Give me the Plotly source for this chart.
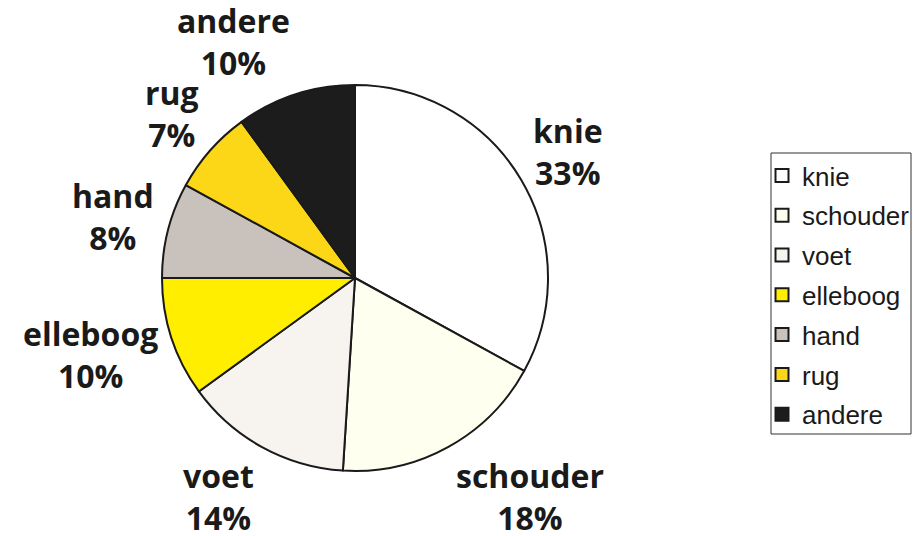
import math
import plotly.graph_objects as go

labels = ["knie", "schouder", "voet", "elleboog", "hand", "rug", "andere"]
values = [33, 18, 14, 10, 8, 7, 10]
colors = ["#ffffff", "#fffff0", "#f7f3ef", "#ffee00", "#c9c1bb", "#fcd717", "#1c1c1c"]

W, H = 922, 536
OFF = 8  # page body margin


def fx(p):
    return (p - OFF) / W


def fy(p):
    return (H - (p - OFF)) / H


cx, cy, R = 355, 278, 193
GAP = 12      # distance of label box from the rim
HALF_H = 44   # half height of a two-line label

fig = go.Figure()
fig.add_trace(go.Pie(
    labels=labels, values=values, sort=False, direction="clockwise", rotation=0,
    marker=dict(colors=colors, line=dict(color="#1a1a1a", width=2)),
    textinfo="none",
    showlegend=False, hoverinfo="skip",
    domain=dict(x=[fx(cx - R), fx(cx + R)], y=[fy(cy + R), fy(cy - R)]),
))

# outside labels placed along each slice's mid angle
total = sum(values)
cum = 0
for lab, v in zip(labels, values):
    theta = 2 * math.pi * (cum + v / 2) / total
    cum += v
    s, c = math.sin(theta), math.cos(theta)
    px = cx + (R + GAP) * s
    py = cy - (R + GAP) * c - HALF_H * c
    xa = "left" if s > 0.3 else ("right" if s < -0.3 else "center")
    fig.add_annotation(
        x=fx(px), y=fy(py), xref="paper", yref="paper", xanchor=xa, yanchor="middle",
        text=f"<b>{lab}</b><br><b>{round(100 * v / total)}%</b>", showarrow=False,
        font=dict(family="Open Sans", size=32, color="#1a1a1a"), align="center",
    )

for lab, col in zip(labels, colors):
    fig.add_trace(go.Scatter(
        x=[None], y=[None], mode="markers", name=lab, legendgroup=lab,
        marker=dict(symbol="square", size=13, color=col, line=dict(color="#1a1a1a", width=2)),
    ))

fig.add_shape(type="rect", xref="paper", yref="paper",
              x0=fx(771), x1=fx(911), y0=fy(434), y1=fy(153),
              line=dict(color="#333333", width=1), fillcolor="rgba(0,0,0,0)")

fig.update_layout(
    width=W, height=H, margin=dict(l=0, r=0, t=0, b=0),
    paper_bgcolor="white", plot_bgcolor="white",
    xaxis=dict(visible=False), yaxis=dict(visible=False),
    legend=dict(x=fx(762), y=fy(152), xanchor="left", yanchor="top",
                borderwidth=0, bgcolor="rgba(0,0,0,0)",
                font=dict(family="Liberation Sans", size=26, color="#1a1a1a"),
                tracegroupgap=3, itemwidth=30),
)
fig.write_html("out.html")
